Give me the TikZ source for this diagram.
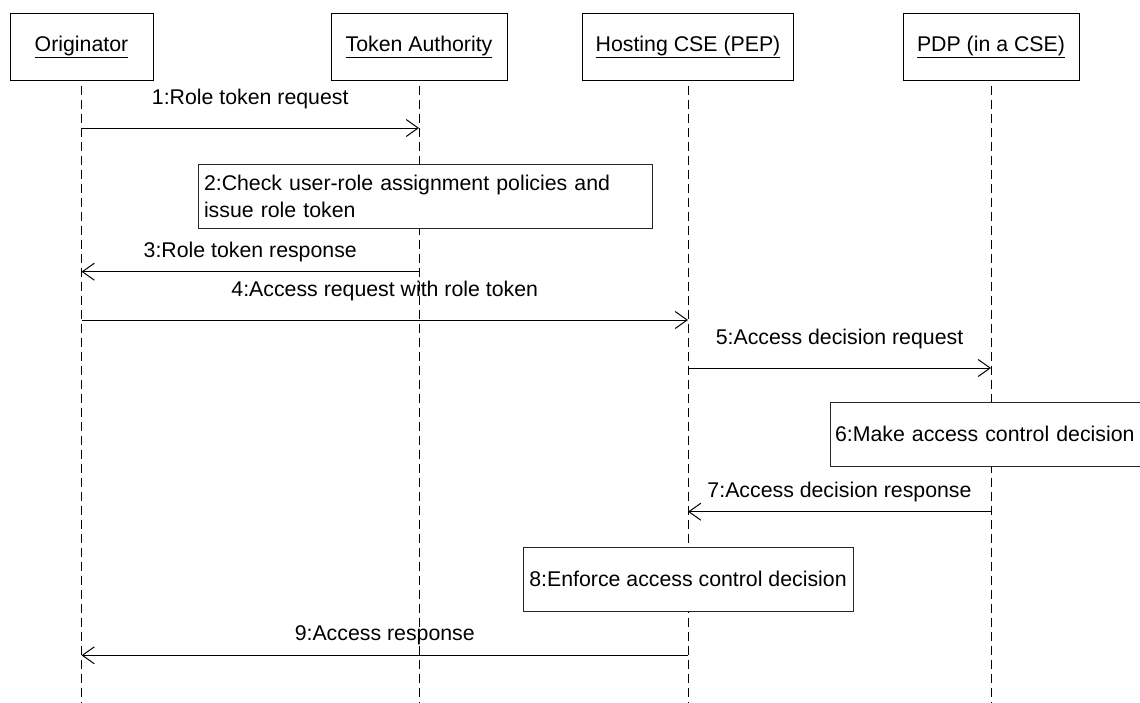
\documentclass[tikz,border=0pt]{standalone}
\usepackage{fontspec}
\setmainfont{Liberation Sans}
\usepackage{tikz}
\usetikzlibrary{arrows.meta}
\usetikzlibrary{positioning,calc}
\tikzstyle{actor} = [rectangle,draw=black,fill=white,line width=1pt,minimum height=67pt,inner sep=0pt]
\tikzstyle{note} = [rectangle,draw=black!85,fill=white,line width=1pt,minimum height=64pt,inner ysep=0pt]
\tikzstyle{lifeline} = [draw=black,line width=1pt,dash pattern=on 9pt off 5pt,dash phase=9pt]
\tikzstyle{arrow_msg} = [-{Straight Barb[length=12pt,width=17pt]},draw=black,line width=1pt]
\tikzstyle{msg_req} = [above=23pt,inner sep=0pt,text depth=0pt]
\tikzstyle{msg_resp} = [above=14pt,inner sep=0pt,text depth=0pt]

\begin{document}
\begin{tikzpicture}[x=1pt,y=-1pt,font=\fontsize{21.3}{27}\selectfont]
    \useasboundingbox (0,0) rectangle (1140,702);
    \clip (0,0) rectangle (1140,702);

      \node[actor,minimum width=143pt] (orig) at (81.5,46.5) {\underline{Originator}};
      \node[actor,minimum width=176pt] (ta)   at (419,46.5)  {\underline{Token Authority}};
      \node[actor,minimum width=211pt] (hcse) at (688,46.5)  {\underline{Hosting CSE (PEP)}};
      \node[actor,minimum width=176pt] (pdp)  at (991,46.5)  {\underline{PDP (in a CSE)}};

      % rows
      \coordinate (m1) at (0,128);
      \coordinate (b2) at (0,196);
      \coordinate (m3) at (0,271.7);
      \coordinate (m4) at (0,320);
      \coordinate (m5) at (0,368);
      \coordinate (b6) at (0,434);
      \coordinate (m7) at (0,511.7);
      \coordinate (b8) at (0,579);
      \coordinate (m9) at (0,655.3);
      \coordinate (bottom) at (0,702);

      \draw[arrow_msg] (orig |- m1) -- node[msg_req] {1:Role token request} (ta |- m1);
      \draw[arrow_msg] (ta |- m3) -- node[msg_resp] {3:Role token response} (orig |- m3);
      \draw[arrow_msg] (orig |- m4) -- node[msg_req] {4:Access request with role token} (hcse |- m4);
      \draw[arrow_msg] (hcse |- m5) -- node[msg_req] {5:Access decision request} (pdp |- m5);
      \draw[arrow_msg] (pdp |- m7) -- node[msg_resp] {7:Access decision response} (hcse |- m7);
      \draw[arrow_msg] (hcse |- m9) -- node[msg_resp] {9:Access response} (orig |- m9);

      \foreach \p in {orig,ta,hcse,pdp} {
        \draw[lifeline] (\p.south) -- (\p |- bottom);
      }

      \node[note,text width=442pt,align=left,inner xsep=6pt,xshift=6pt] (chk) at (b2 -| ta)
        {2:Check user-role assignment policies and\\issue role token};
      \node[note,text width=312pt,align=left,inner xsep=5pt] (dec) at (b6 -| pdp)
        {6:Make access control decision};
      \node[note,minimum width=330pt] (enf) at (b8 -| hcse)
        {8:Enforce access control decision};
    \end{tikzpicture}
\end{document}
